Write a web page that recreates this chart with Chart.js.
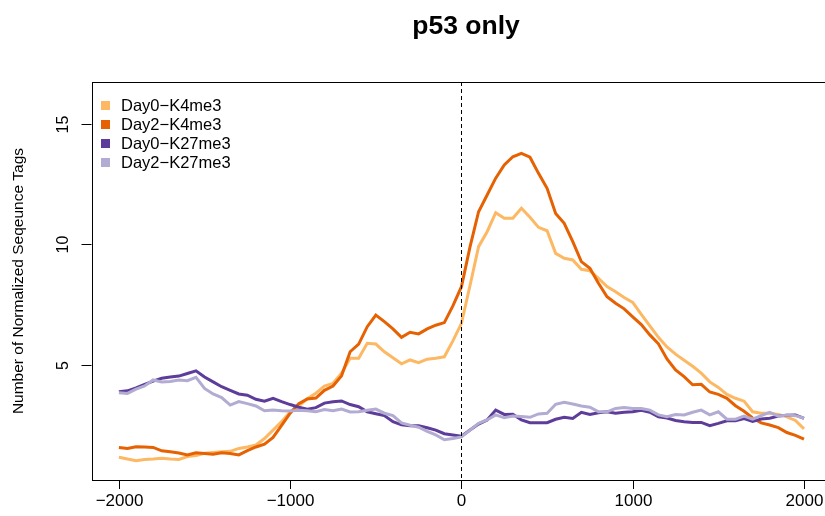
<!DOCTYPE html>
<html>
<head>
<meta charset="utf-8">
<script src="https://cdn.jsdelivr.net/npm/chart.js@4/dist/chart.umd.min.js"></script>
<style>
  html, body { margin: 0; padding: 0; background: #fff; overflow: hidden; }
  #wrap { width: 825px; height: 516px; overflow: hidden; }
</style>
</head>
<body>
<div id="wrap"><canvas id="profile" width="840" height="516"></canvas></div>
<script>
// positions relative to the TSS (bp), one sample every 50 bp
const positions = [];
for (let p = -2000; p <= 2000; p += 50) positions.push(p);

const xTicks = [-2000, -1000, 0, 1000, 2000];
const yTicks = [5, 10, 15];

const day0K4 = [
  1.17, 1.10, 1.03, 1.08, 1.10, 1.13, 1.10, 1.08, 1.20, 1.25,
  1.34, 1.37, 1.40, 1.42, 1.54, 1.60, 1.68, 1.95, 2.30, 2.65,
  3.06, 3.30, 3.60, 3.83, 4.13, 4.24, 4.66, 5.28, 5.28, 5.90,
  5.87, 5.55, 5.30, 5.05, 5.21, 5.10, 5.24, 5.28, 5.34, 6.00,
  6.73, 8.30, 9.91, 10.53, 11.32, 11.09, 11.09, 11.50, 11.13, 10.71,
  10.57, 9.63, 9.43, 9.36, 8.97, 8.91, 8.60, 8.25, 8.04, 7.80,
  7.60, 7.10, 6.62, 6.15, 5.75, 5.45, 5.20, 4.95, 4.66, 4.30,
  4.07, 3.78, 3.62, 3.50, 3.06, 3.00, 3.00, 2.95, 2.85, 2.70,
  2.35
];
const day2K4 = [
  1.58, 1.54, 1.61, 1.60, 1.58, 1.44, 1.40, 1.35, 1.27, 1.36,
  1.33, 1.30, 1.36, 1.33, 1.27, 1.45, 1.60, 1.72, 2.00, 2.50,
  3.00, 3.40, 3.59, 3.63, 3.95, 4.13, 4.55, 5.55, 5.87, 6.59,
  7.07, 6.80, 6.50, 6.15, 6.36, 6.29, 6.50, 6.65, 6.76, 7.45,
  8.25, 9.90, 11.36, 12.05, 12.75, 13.30, 13.64, 13.78, 13.62, 12.95,
  12.33, 11.29, 10.88, 10.12, 9.29, 9.01, 8.39, 7.83, 7.56, 7.33,
  7.00, 6.68, 6.25, 5.88, 5.25, 4.80, 4.52, 4.18, 4.20, 3.88,
  3.78, 3.62, 3.31, 3.08, 2.80, 2.60, 2.51, 2.40, 2.20, 2.08,
  1.93
];
const day0K27 = [
  3.89, 3.93, 4.05, 4.20, 4.33, 4.45, 4.50, 4.54, 4.65, 4.76,
  4.50, 4.30, 4.10, 3.95, 3.80, 3.75, 3.58, 3.50, 3.62, 3.48,
  3.36, 3.25, 3.17, 3.23, 3.42, 3.48, 3.51, 3.36, 3.27, 3.06,
  2.98, 2.90, 2.65, 2.52, 2.48, 2.48, 2.40, 2.30, 2.15, 2.10,
  2.05, 2.30, 2.55, 2.72, 3.13, 2.95, 2.96, 2.72, 2.61, 2.61,
  2.61, 2.75, 2.83, 2.78, 3.04, 2.95, 3.02, 3.06, 3.00, 3.04,
  3.06, 3.12, 3.04, 2.85, 2.80, 2.70, 2.65, 2.62, 2.62, 2.48,
  2.58, 2.69, 2.69, 2.78, 2.66, 2.76, 2.79, 2.88, 2.92, 2.93,
  2.79
];
const day2K27 = [
  3.85, 3.82, 4.00, 4.13, 4.38, 4.30, 4.32, 4.38, 4.35, 4.49,
  4.03, 3.80, 3.65, 3.34, 3.48, 3.40, 3.30, 3.10, 3.13, 3.10,
  3.09, 3.12, 3.10, 3.06, 3.15, 3.10, 3.17, 3.05, 3.06, 3.12,
  3.17, 3.00, 2.90, 2.60, 2.50, 2.42, 2.25, 2.10, 1.90, 1.95,
  2.02, 2.30, 2.58, 2.72, 2.93, 2.81, 2.88, 2.86, 2.83, 2.97,
  3.00, 3.37, 3.45, 3.38, 3.30, 3.25, 3.06, 3.06, 3.20, 3.24,
  3.20, 3.20, 3.13, 2.93, 2.86, 2.95, 2.93, 3.04, 3.13, 2.93,
  3.06, 2.75, 2.75, 2.88, 2.75, 2.90, 3.04, 2.88, 2.93, 2.90,
  2.79
];

const seriesNames = ["Day0\u2212K4me3", "Day2\u2212K4me3", "Day0\u2212K27me3", "Day2\u2212K27me3"];
const seriesValues = [day0K4, day2K4, day0K27, day2K27];
const seriesColors = ["#FDB863", "#E66101", "#5E3C99", "#B2ABD2"];

const FONT = '"Liberation Sans", Arial, Helvetica, sans-serif';

function fmt(v) {
  return v < 0 ? "\u2212" + Math.abs(v) : String(v);
}

const decorations = {
  id: "decorations",
  afterDatasetsDraw(chart) {
    const { ctx, chartArea: a, scales } = chart;
    const x0 = Math.round(scales.x.getPixelForValue(0)) + 0.5;
    ctx.save();
    // dashed line at TSS
    ctx.strokeStyle = "#000";
    ctx.lineWidth = 1;
    ctx.setLineDash([4, 3]);
    ctx.beginPath();
    ctx.moveTo(x0, a.top);
    ctx.lineTo(x0, a.bottom);
    ctx.stroke();
    ctx.restore();
  },
  afterDraw(chart) {
    const { ctx, chartArea: a, scales } = chart;
    const x = scales.x, y = scales.y;
    ctx.save();
    // box
    ctx.strokeStyle = "#000";
    ctx.lineWidth = 1;
    ctx.strokeRect(Math.round(a.left) + 0.5, Math.round(a.top) + 0.5,
      Math.round(a.right - a.left), Math.round(a.bottom - a.top));

    // x axis ticks
    ctx.fillStyle = "#000";
    ctx.font = "17px " + FONT;
    ctx.textAlign = "center";
    ctx.textBaseline = "middle";
    xTicks.forEach(t => {
      const px = Math.round(x.getPixelForValue(t)) + 0.5;
      ctx.beginPath();
      ctx.moveTo(px, a.bottom);
      ctx.lineTo(px, a.bottom + 9);
      ctx.stroke();
      ctx.fillText(fmt(t), px, a.bottom + 21);
    });

    // y axis ticks, labels rotated
    ctx.font = "16px " + FONT;
    yTicks.forEach(t => {
      const py = Math.round(y.getPixelForValue(t)) + 0.5;
      ctx.beginPath();
      ctx.moveTo(a.left, py);
      ctx.lineTo(a.left - 10, py);
      ctx.stroke();
      ctx.save();
      ctx.translate(a.left - 28, py);
      ctx.rotate(-Math.PI / 2);
      ctx.fillText(String(t), 0, 0);
      ctx.restore();
    });

    // y title
    ctx.save();
    ctx.font = "15.5px " + FONT;
    ctx.translate(19, (a.top + a.bottom) / 2);
    ctx.rotate(-Math.PI / 2);
    ctx.fillText("Number of Normalized Seqeunce Tags", 0, 0);
    ctx.restore();

    // title
    ctx.font = "bold 26.5px " + FONT;
    ctx.fillText("p53 only", 466, 27);

    // legend
    ctx.font = "16.5px " + FONT;
    ctx.textAlign = "left";
    seriesNames.forEach((name, i) => {
      const cy = 105 + i * 19;
      ctx.fillStyle = seriesColors[i];
      ctx.fillRect(101, cy - 4, 9, 9);
      ctx.fillStyle = "#000";
      ctx.fillText(name, 121, cy + 1);
    });
    ctx.restore();
  }
};

const datasets = seriesNames.map((name, i) => ({
  label: name,
  data: positions.map((p, j) => ({ x: p, y: seriesValues[i][j] })),
  borderColor: seriesColors[i],
  borderWidth: 3,
  pointRadius: 0,
  tension: 0,
  fill: false,
  order: 3 - i
}));

new Chart(document.getElementById("profile"), {
  type: "line",
  data: { datasets: datasets },
  options: {
    responsive: false,
    animation: false,
    layout: { padding: { left: 91.5, top: 82, right: 8.6, bottom: 36 } },
    scales: {
      x: { type: "linear", min: -2160, max: 2160, display: false },
      y: { type: "linear", min: 0.23, max: 16.74, display: false }
    },
    plugins: {
      legend: { display: false },
      tooltip: { enabled: false },
      title: { display: false }
    }
  },
  plugins: [decorations]
});
</script>
</body>
</html>
